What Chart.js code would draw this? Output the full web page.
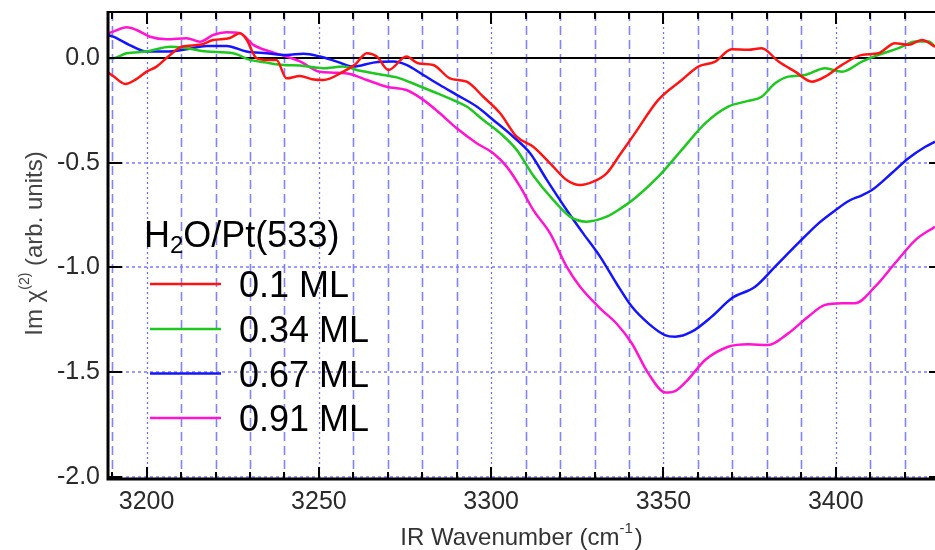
<!DOCTYPE html>
<html>
<head>
<meta charset="utf-8">
<script src="https://cdn.jsdelivr.net/npm/chart.js@4.4.1/dist/chart.umd.min.js"></script>
<style>
  html, body { margin: 0; padding: 0; background: #fff; overflow: hidden; }
  canvas { display: block; }
</style>
</head>
<body>
<canvas id="c" width="935" height="550"></canvas>
<script>
// IR wavenumber (cm-1) and Im chi(2), one pair of arrays per coverage
var redX = [3189, 3190.3, 3193.8, 3197, 3200, 3202.9, 3206.8, 3210.2, 3215.5, 3219.3, 3224.2, 3227.1, 3229, 3231.9, 3234.8, 3237.7, 3240.6, 3244.5, 3248, 3251.3, 3257.1, 3260.5, 3263.9, 3266.8, 3270.2, 3275.4, 3278.8, 3283.2, 3288, 3292.9, 3297.7, 3302.6, 3307.4, 3312.2, 3317.1, 3321.9, 3325.8, 3329.6, 3333.5, 3337.4, 3341.7, 3348.5, 3355.3, 3360.1, 3365, 3369.8, 3374.6, 3378.5, 3383.4, 3388.2, 3393.1, 3396.9, 3401.8, 3407.6, 3412.4, 3417.2, 3421.1, 3425, 3428.8];
var redY = [-0.07, -0.085, -0.123, -0.1, -0.064, -0.04, 0.016, 0.055, 0.064, 0.087, 0.097, 0.12, 0.09, 0.0, -0.008, -0.008, -0.096, -0.085, -0.1, -0.104, -0.064, -0.03, 0.024, 0.008, -0.056, 0.008, -0.024, -0.032, -0.096, -0.112, -0.184, -0.263, -0.375, -0.423, -0.502, -0.582, -0.606, -0.59, -0.55, -0.46, -0.359, -0.199, -0.104, -0.04, -0.016, 0.043, 0.04, 0.048, -0.016, -0.064, -0.112, -0.088, -0.032, 0.016, 0.024, 0.072, 0.064, 0.087, 0.055];

var greenX = [3189, 3190.3, 3194.2, 3200, 3206.8, 3211.6, 3217.4, 3225.1, 3230, 3234.8, 3239.7, 3244.5, 3251.2, 3257, 3262, 3268.7, 3273.5, 3278.4, 3283.2, 3289, 3292.9, 3297.7, 3302.6, 3307.4, 3312.2, 3318, 3322.9, 3327.7, 3333.5, 3337.4, 3341.7, 3348.5, 3355.3, 3362.1, 3368.8, 3374.6, 3378.5, 3382.4, 3386.2, 3391.1, 3396.9, 3401.8, 3407.6, 3412.4, 3418.2, 3423.1, 3427, 3428.8];
var greenY = [0.0, 0.0, 0.024, 0.032, 0.055, 0.048, 0.032, 0.024, -0.008, -0.021, -0.032, -0.035, -0.048, -0.04, -0.06, -0.08, -0.096, -0.128, -0.16, -0.2, -0.231, -0.295, -0.358, -0.438, -0.56, -0.677, -0.757, -0.781, -0.757, -0.72, -0.669, -0.566, -0.438, -0.311, -0.231, -0.204, -0.184, -0.12, -0.088, -0.08, -0.048, -0.064, -0.016, 0.016, 0.048, 0.08, 0.08, 0.055];

var blueX = [3189, 3190.3, 3196.1, 3200, 3205.8, 3211.6, 3217.4, 3223.2, 3229, 3234.8, 3240.6, 3245.5, 3250.3, 3255.2, 3260, 3265.8, 3271.6, 3275.4, 3280.3, 3285.1, 3290, 3295.8, 3300.6, 3306.4, 3311.3, 3316.1, 3321.9, 3326.7, 3331.6, 3336.5, 3340.8, 3345.6, 3350.4, 3353.4, 3358.2, 3364, 3369.8, 3376.6, 3382.4, 3389.1, 3395, 3400, 3404, 3407.6, 3410.5, 3416.2, 3421.1, 3426, 3428.8];
var blueY = [0.11, 0.103, 0.055, 0.032, 0.032, 0.043, 0.059, 0.059, 0.032, 0.024, 0.016, 0.021, 0.008, -0.016, -0.04, -0.021, -0.016, -0.032, -0.08, -0.128, -0.175, -0.231, -0.295, -0.375, -0.454, -0.58, -0.725, -0.837, -0.948, -1.08, -1.187, -1.267, -1.323, -1.331, -1.307, -1.235, -1.147, -1.092, -0.996, -0.884, -0.789, -0.725, -0.68, -0.655, -0.63, -0.55, -0.478, -0.423, -0.399];

var pinkX = [3189, 3190.3, 3194.2, 3197.1, 3201, 3205.8, 3211.6, 3215.5, 3219.3, 3223.2, 3227.1, 3231, 3235.8, 3240.6, 3244.5, 3250.3, 3254.2, 3259, 3263.9, 3269.7, 3275.4, 3280.3, 3285.1, 3290, 3295.8, 3300.6, 3304.5, 3308.4, 3312.2, 3317.1, 3321.9, 3325.8, 3331.6, 3336.5, 3340.8, 3345.6, 3350.6, 3353.5, 3357, 3362.1, 3368.8, 3374.6, 3380.4, 3386.2, 3392, 3396.9, 3401.8, 3405.6, 3411.4, 3417.2, 3423.1, 3428.8];
var pinkY = [0.12, 0.127, 0.148, 0.135, 0.103, 0.091, 0.096, 0.079, 0.111, 0.124, 0.12, 0.064, 0.032, 0.008, -0.015, -0.065, -0.069, -0.075, -0.104, -0.136, -0.152, -0.199, -0.263, -0.335, -0.406, -0.454, -0.518, -0.614, -0.725, -0.837, -0.996, -1.092, -1.195, -1.27, -1.362, -1.506, -1.598, -1.59, -1.538, -1.442, -1.379, -1.367, -1.371, -1.315, -1.235, -1.179, -1.171, -1.171, -1.092, -0.98, -0.869, -0.805];

var seriesLabels = ['0.1 ML', '0.34 ML', '0.67 ML', '0.91 ML'];
var seriesColors = ['#ff1414', '#1ec81e', '#1414ff', '#ff14d2'];
var xTickValues = [3200, 3250, 3300, 3350, 3400];
var yTickValues = [0.0, -0.5, -1.0, -1.5, -2.0];

var FONT = '"Liberation Sans", Arial, sans-serif';

function pts(xs, ys) {
    return xs.map(function(v, i) { return {x: v, y: ys[i]}; });
}

var allSeries = [[redX, redY], [greenX, greenY], [blueX, blueY], [pinkX, pinkY]];

// Grid, zero line, frame, inward ticks, legend and titles.
var decor = {
    id: 'decor',
    beforeDatasetsDraw: function(chart) {
        var ctx = chart.ctx, a = chart.chartArea, x = chart.scales.x, y = chart.scales.y;
        ctx.save();
        // vertical grid every 10 cm-1: dotted at majors, dashed at minors
        for (var v = 3190; v <= 3420; v += 10) {
            var px = Math.round(x.getPixelForValue(v)) + 0.5;
            if (v % 50 === 0) {
                ctx.setLineDash([2, 3]);
                ctx.strokeStyle = 'rgba(90,90,255,0.85)';
                ctx.lineWidth = 1.3;
            } else {
                ctx.setLineDash([9, 5]);
                ctx.strokeStyle = 'rgba(100,100,255,0.8)';
                ctx.lineWidth = 1.6;
            }
            ctx.beginPath();
            ctx.moveTo(px, a.top);
            ctx.lineTo(px, a.bottom);
            ctx.stroke();
        }
        // horizontal dotted grid
        ctx.setLineDash([3, 3]);
        ctx.strokeStyle = 'rgba(120,120,255,0.75)';
        ctx.lineWidth = 2;
        yTickValues.forEach(function(v) {
            if (v === 0) return;
            var py = Math.round(y.getPixelForValue(v));
            ctx.beginPath();
            ctx.moveTo(a.left, py);
            ctx.lineTo(a.right, py);
            ctx.stroke();
        });
        // zero line
        ctx.setLineDash([]);
        ctx.strokeStyle = '#000';
        ctx.lineWidth = 2;
        var py0 = Math.round(y.getPixelForValue(0));
        ctx.beginPath();
        ctx.moveTo(a.left, py0);
        ctx.lineTo(a.right, py0);
        ctx.stroke();
        ctx.restore();
    },
    afterDraw: function(chart) {
        var ctx = chart.ctx, a = chart.chartArea, x = chart.scales.x, y = chart.scales.y;
        ctx.save();
        ctx.setLineDash([]);
        ctx.strokeStyle = '#000';
        // frame
        ctx.lineWidth = 2;
        ctx.beginPath();
        ctx.moveTo(a.left, a.top);
        ctx.lineTo(a.right, a.top);
        ctx.stroke();
        ctx.lineWidth = 3;
        ctx.beginPath();
        ctx.moveTo(a.left, a.top - 1);
        ctx.lineTo(a.left, a.bottom);
        ctx.lineTo(a.right, a.bottom);
        ctx.stroke();
        // x ticks, top and bottom, pointing inward
        ctx.lineWidth = 2;
        for (var v = 3190; v <= 3420; v += 10) {
            var px = Math.round(x.getPixelForValue(v));
            var len = v % 50 === 0 ? 12 : 7;
            ctx.beginPath();
            ctx.moveTo(px, a.top);
            ctx.lineTo(px, a.top + len);
            ctx.moveTo(px, a.bottom);
            ctx.lineTo(px, a.bottom - len);
            ctx.stroke();
        }
        // y ticks, left and right
        yTickValues.forEach(function(v) {
            var py = Math.round(y.getPixelForValue(v));
            ctx.beginPath();
            ctx.moveTo(a.left, py);
            ctx.lineTo(a.left + 14, py);
            ctx.moveTo(a.right, py);
            ctx.lineTo(a.right - 6, py);
            ctx.stroke();
        });

        // legend
        ctx.fillStyle = '#000';
        ctx.textBaseline = 'alphabetic';
        ctx.textAlign = 'left';
        ctx.font = '36px ' + FONT;
        var tx = 144, ty = 247;
        ctx.fillText('H', tx, ty);
        tx += ctx.measureText('H').width;
        ctx.font = '24px ' + FONT;
        ctx.fillText('2', tx, ty + 6);
        tx += ctx.measureText('2').width;
        ctx.font = '36px ' + FONT;
        ctx.fillText('O/Pt(533)', tx, ty);
        var rowY = [284, 329, 373.5, 418];
        chart.data.datasets.forEach(function(ds, i) {
            ctx.strokeStyle = ds.borderColor;
            ctx.lineWidth = 2.5;
            ctx.beginPath();
            ctx.moveTo(150, rowY[i]);
            ctx.lineTo(221, rowY[i]);
            ctx.stroke();
            ctx.fillStyle = '#000';
            ctx.font = '36px ' + FONT;
            ctx.fillText(ds.label, 239, rowY[i] + 13);
        });

        // x title
        ctx.fillStyle = '#333';
        var p1 = 'IR Wavenumber (cm', p2 = '-1', p3 = ')';
        ctx.font = '24px ' + FONT;
        var w1 = ctx.measureText(p1).width, w3 = ctx.measureText(p3).width;
        ctx.font = '15px ' + FONT;
        var w2 = ctx.measureText(p2).width;
        var sx = (a.left + a.right) / 2 - (w1 + w2 + w3 + 2) / 2;
        ctx.font = '24px ' + FONT;
        ctx.fillText(p1, sx, 545);
        ctx.font = '15px ' + FONT;
        ctx.fillText(p2, sx + w1, 533);
        ctx.font = '24px ' + FONT;
        ctx.fillText(p3, sx + w1 + w2 + 2, 545);

        // y title
        ctx.translate(42, (a.top + a.bottom) / 2 - 2);
        ctx.rotate(-Math.PI / 2);
        ctx.fillStyle = '#444';
        var q1 = 'Im \u03C7', q2 = '(2)', q3 = ' (arb. units)';
        ctx.font = '24px ' + FONT;
        var v1 = ctx.measureText(q1).width, v3 = ctx.measureText(q3).width;
        ctx.font = '14px ' + FONT;
        var v2 = ctx.measureText(q2).width;
        var sy = -(v1 + v2 + v3) / 2;
        ctx.font = '24px ' + FONT;
        ctx.fillText(q1, sy, 0);
        ctx.font = '14px ' + FONT;
        ctx.fillText(q2, sy + v1, -13);
        ctx.font = '24px ' + FONT;
        ctx.fillText(q3, sy + v1 + v2, 0);
        ctx.restore();
    }
};

function noPad(s) {
    s.paddingTop = 0;
    s.paddingBottom = 0;
    s.paddingLeft = 0;
    s.paddingRight = 0;
}

new Chart(document.getElementById('c'), {
    type: 'line',
    data: {
        datasets: allSeries.map(function(s, i) {
            return {
                label: seriesLabels[i],
                data: pts(s[0], s[1]),
                borderColor: seriesColors[i],
                backgroundColor: seriesColors[i],
                borderWidth: 2.5,
                pointRadius: 0,
                fill: false,
                cubicInterpolationMode: 'monotone'
            };
        })
    },
    options: {
        responsive: false,
        animation: false,
        events: [],
        layout: { padding: { top: 12, right: 0, left: 0, bottom: 0 } },
        plugins: { legend: { display: false }, tooltip: { enabled: false } },
        scales: {
            x: {
                type: 'linear',
                min: 3188.8,
                max: 3428.8,
                grid: { display: false, drawTicks: false },
                border: { display: false },
                afterFit: function(s) { s.height = 71; noPad(s); },
                afterBuildTicks: function(s) { s.ticks = xTickValues.map(function(v) { return {value: v}; }); },
                ticks: {
                    padding: 8,
                    maxRotation: 0,
                    autoSkip: false,
                    color: '#2a2a2a',
                    font: { family: FONT, size: 25 },
                    callback: function(v) { return String(v); }
                }
            },
            y: {
                min: -2.011,
                max: 0.221,
                grid: { display: false, drawTicks: false },
                border: { display: false },
                afterFit: function(s) { s.width = 108; noPad(s); },
                afterBuildTicks: function(s) { s.ticks = yTickValues.map(function(v) { return {value: v}; }); },
                ticks: {
                    padding: 8,
                    color: '#2a2a2a',
                    font: { family: FONT, size: 25 },
                    callback: function(v) { return Number(v).toFixed(1); }
                }
            }
        }
    },
    plugins: [decor]
});
</script>
</body>
</html>
